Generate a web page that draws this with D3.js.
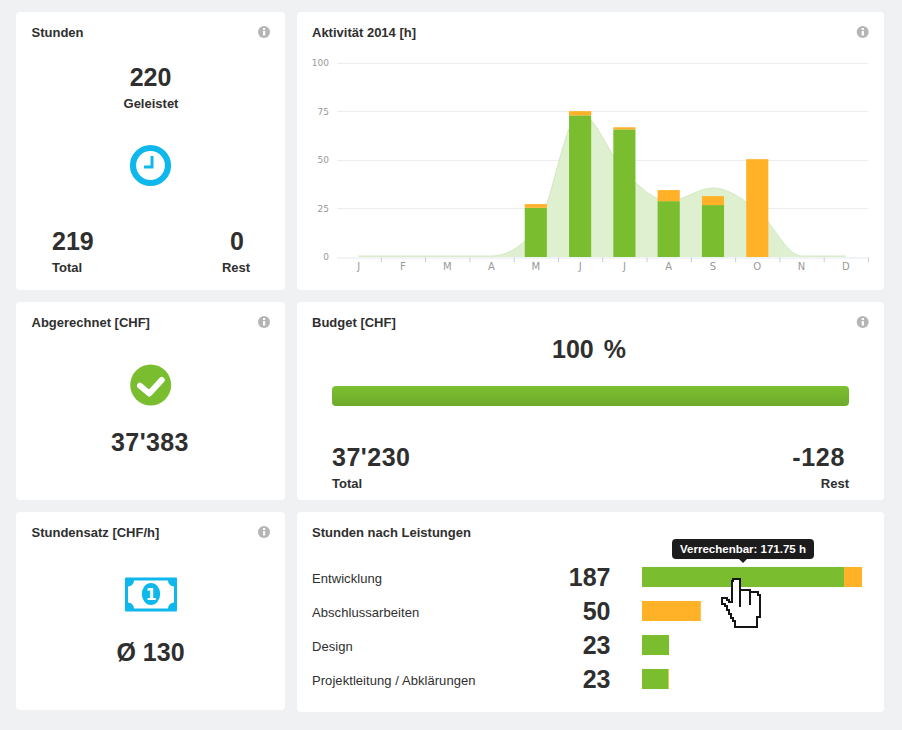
<!DOCTYPE html>
<html>
<head>
<meta charset="utf-8">
<title>Dashboard</title>
<script src="https://cdn.jsdelivr.net/npm/d3@7"></script>
<style>
html, body { margin: 0; padding: 0; background: #f0f1f3; }
svg { display: block; }
text { font-family: "Liberation Sans", Arial, sans-serif; fill: #2f2f2f; }
.title { font-size: 13px; font-weight: bold; }
.big { font-size: 25px; font-weight: bold; }
.label { font-size: 13px; font-weight: bold; }
.row { font-size: 13px; font-weight: normal; letter-spacing: 0.06px; }
.axis text { font-family: "DejaVu Sans", sans-serif; font-size: 9px; fill: #999; }
</style>
</head>
<body>
<div id="chart"></div>
<script>
// Aktivitaet 2014
var months = ["J", "F", "M", "A", "M", "J", "J", "A", "S", "O", "N", "D"];
var billable = [0, 0, 0, 0, 25.3, 72.8, 65.6, 28.7, 26.7, 0, 0, 0];
var nonBillable = [0, 0, 0, 0, 1.9, 2.2, 1.1, 5.7, 4.6, 50.3, 0, 0];
var trend = [0.5, 0.5, 0.5, 0.5, 14, 74, 44, 28.7, 35.5, 24, 0.5, 0.5];
var yTicks = [0, 25, 50, 75, 100];

// Stunden nach Leistungen
var services = ["Entwicklung", "Abschlussarbeiten", "Design", "Projektleitung / Abklärungen"];
var serviceTotals = ["187", "50", "23", "23"];
var serviceBillable = [171.75, 0, 23, 22.5];
var serviceOther = [15.25, 50, 0, 0.5];

// Budget
var budgetPercent = 100;

var GREEN = "#7abd2f", ORANGE = "#ffb128", BLUE = "#0eb7ec";

var svg = d3.select("#chart").append("svg")
    .attr("width", 902)
    .attr("height", 730);

var defs = svg.append("defs");
var grad = defs.append("linearGradient")
    .attr("id", "budget-grad")
    .attr("x1", 0).attr("x2", 0).attr("y1", 0).attr("y2", 1);
grad.append("stop").attr("offset", "0%").attr("stop-color", "#7dbf31");
grad.append("stop").attr("offset", "100%").attr("stop-color", "#6eaa2b");

// -----------------------------------------------
// cards
// -----------------------------------------------
function card(x, y, w, h, title){
    svg.append("rect")
	.attr("x", x).attr("y", y)
	.attr("width", w).attr("height", h)
	.attr("rx", 4)
	.attr("fill", "#fff");
    svg.append("text")
	.attr("class", "title")
	.attr("x", x + (x < 100 ? 15.5 : 15)).attr("y", y + 24.5)
	.text(title);
}

function info(x, y){
    svg.append("circle")
	.attr("cx", x).attr("cy", y).attr("r", 6)
	.attr("fill", "#b5b5b5");
    svg.append("rect")
	.attr("x", x - 1).attr("y", y - 1)
	.attr("width", 2.2).attr("height", 4.5)
	.attr("fill", "#fff");
    svg.append("rect")
	.attr("x", x - 1).attr("y", y - 4)
	.attr("width", 2.2).attr("height", 2)
	.attr("fill", "#fff");
}

function big(x, y, str, anchor){
    return svg.append("text")
	.attr("class", "big")
	.attr("x", x).attr("y", y)
	.attr("text-anchor", anchor || "middle")
	.text(str);
}

function label(x, y, str, anchor){
    return svg.append("text")
	.attr("class", "label")
	.attr("x", x).attr("y", y)
	.attr("text-anchor", anchor || "middle")
	.text(str);
}

card(16, 12, 269, 278, "Stunden");
card(297, 12, 587, 278, "Aktivität 2014 [h]");
card(16, 302, 269, 198, "Abgerechnet [CHF]");
card(297, 302, 587, 198, "Budget [CHF]");
card(16, 512, 269, 198, "Stundensatz [CHF/h]");
card(297, 512, 587, 200, "Stunden nach Leistungen");

info(264, 32);
info(862.7, 32);
info(264, 322);
info(862.7, 322);
info(264, 532);

// -----------------------------------------------
// Stunden
// -----------------------------------------------
big(150.5, 86, "220");
label(151, 108, "Geleistet");
big(52, 250, "219", "start");
label(52, 272, "Total", "start");
big(237, 250, "0");
label(236, 272, "Rest");

svg.append("circle")
    .attr("cx", 150.5).attr("cy", 165.5).attr("r", 17.5)
    .attr("fill", "none")
    .attr("stroke", BLUE)
    .attr("stroke-width", 6.2);
svg.append("path")
    .attr("d", "M152,156V167H144")
    .attr("fill", "none")
    .attr("stroke", BLUE)
    .attr("stroke-width", 3);

// -----------------------------------------------
// Abgerechnet
// -----------------------------------------------
svg.append("circle")
    .attr("cx", 150.7).attr("cy", 385).attr("r", 20.5)
    .attr("fill", GREEN);
svg.append("path")
    .attr("d", "M140,385.7L149.3,393.5L161.7,380")
    .attr("fill", "none")
    .attr("stroke", "#fff")
    .attr("stroke-width", 6)
    .attr("stroke-linecap", "round")
    .attr("stroke-linejoin", "round");
big(150, 451, "37'383").style("letter-spacing", "0.4px");

// -----------------------------------------------
// Stundensatz
// -----------------------------------------------
svg.append("rect")
    .attr("x", 125).attr("y", 577.5)
    .attr("width", 52).attr("height", 34)
    .attr("rx", 1)
    .attr("fill", BLUE);
svg.append("path")
    .attr("d", "M134,580.5H168A6,6 0 0 0 174,586.5V602.5A6,6 0 0 0 168,608.5H134A6,6 0 0 0 128,602.5V586.5A6,6 0 0 0 134,580.5Z")
    .attr("fill", "#fff");
svg.append("ellipse")
    .attr("cx", 151).attr("cy", 594).attr("rx", 9.2).attr("ry", 11)
    .attr("fill", BLUE);
svg.append("text")
    .attr("x", 151).attr("y", 600)
    .attr("text-anchor", "middle")
    .style("font-family", "'DejaVu Sans', sans-serif")
    .style("font-size", "16px")
    .style("font-weight", "bold")
    .style("fill", "#fff")
    .text("1");
big(150.5, 661, "Ø 130");

// -----------------------------------------------
// Aktivitaet chart
// -----------------------------------------------
var x = d3.scaleBand()
    .domain(d3.range(months.length))
    .range([336.5, 868])
    .paddingInner(0.5)
    .paddingOuter(0.25);
var xOuter = d3.scaleBand()
    .domain(d3.range(months.length))
    .range([336.5, 868]);
var y = d3.scaleLinear()
    .domain([0, 100])
    .range([257, 62.5]);

svg.append("g")
    .selectAll("line")
    .data(yTicks.slice(1))
    .enter()
    .append("line")
    .attr("x1", 337).attr("x2", 868)
    .attr("y1", function(d){ return Math.round(y(d)) + 0.5; })
    .attr("y2", function(d){ return Math.round(y(d)) + 0.5; })
    .attr("stroke", "#ececec");

var yAxis = d3.axisLeft(y)
    .tickValues(yTicks)
    .tickSize(0)
    .tickPadding(0);
svg.append("g")
    .attr("class", "axis")
    .attr("transform", "translate(329,0)")
    .call(yAxis)
    .call(function(g){ g.select(".domain").remove(); });

var area = d3.area()
    .x(function(d, i){ return xOuter(i) + xOuter.bandwidth() / 2; })
    .y0(y(0))
    .y1(function(d){ return y(d); })
    .curve(d3.curveMonotoneX);
var line = d3.line()
    .x(function(d, i){ return xOuter(i) + xOuter.bandwidth() / 2; })
    .y(function(d){ return y(d); })
    .curve(d3.curveMonotoneX);

svg.append("path")
    .datum(trend)
    .attr("d", area)
    .attr("fill", "#dff0d0");
svg.append("path")
    .datum(trend)
    .attr("d", line)
    .attr("fill", "none")
    .attr("stroke", "#d2e8c0")
    .attr("stroke-width", 1);

var xTickScale = d3.scaleLinear()
    .domain([0, months.length])
    .range([336.5, 868]);
var xAxis = d3.axisBottom(xTickScale)
    .tickValues(d3.range(1, months.length + 1))
    .tickFormat("")
    .tickSize(5)
    .tickSizeOuter(0);
svg.append("g")
    .attr("transform", "translate(0,257.5)")
    .call(xAxis)
    .call(function(g){
	g.select(".domain").attr("stroke", "#e3e8ed");
	g.selectAll("line").attr("stroke", "#c5d0da");
    });

var labelAxis = d3.axisBottom(xOuter)
    .tickFormat(function(i){ return months[i]; })
    .tickSize(0)
    .tickPadding(5);
svg.append("g")
    .attr("class", "axis")
    .attr("transform", "translate(0,258)")
    .call(labelAxis)
    .call(function(g){
	g.select(".domain").remove();
	g.selectAll("text").style("font-size", "10px");
    });

var bars = svg.append("g").selectAll("g")
    .data(months)
    .enter()
    .append("g");
bars.append("rect")
    .attr("x", function(d, i){ return x(i); })
    .attr("width", x.bandwidth())
    .attr("y", function(d, i){ return y(billable[i]); })
    .attr("height", function(d, i){ return y(0) - y(billable[i]); })
    .attr("fill", GREEN);
bars.append("rect")
    .attr("x", function(d, i){ return x(i); })
    .attr("width", x.bandwidth())
    .attr("y", function(d, i){ return y(billable[i] + nonBillable[i]); })
    .attr("height", function(d, i){ return y(0) - y(nonBillable[i]); })
    .attr("fill", ORANGE);

// -----------------------------------------------
// Budget
// -----------------------------------------------
var budgetX = d3.scaleLinear()
    .domain([0, 100])
    .range([332, 849]);
svg.append("text")
    .attr("class", "big")
    .attr("x", 589).attr("y", 358)
    .attr("text-anchor", "middle")
    .style("word-spacing", "3px")
    .text(budgetPercent + " %");
svg.append("rect")
    .attr("x", budgetX(0)).attr("y", 386)
    .attr("width", budgetX(budgetPercent) - budgetX(0))
    .attr("height", 20)
    .attr("rx", 4)
    .attr("fill", "url(#budget-grad)");
big(332, 466, "37'230", "start").style("letter-spacing", "0.5px");
label(332, 488, "Total", "start");
big(845, 466, "-128", "end").style("letter-spacing", "0.7px");
label(849, 488, "Rest", "end");

// -----------------------------------------------
// Stunden nach Leistungen
// -----------------------------------------------
var hours = d3.scaleLinear()
    .domain([0, 187])
    .range([642, 862]);
var rowY = d3.scaleBand()
    .domain(d3.range(services.length))
    .range([560, 696])
    .paddingInner(0.41)
    .paddingOuter(0.205);

var rows = svg.append("g").selectAll("g")
    .data(services)
    .enter()
    .append("g");
rows.append("text")
    .attr("class", "row")
    .attr("x", 312)
    .attr("y", function(d, i){ return rowY(i) + 16; })
    .text(function(d){ return d; });
rows.append("text")
    .attr("class", "big")
    .attr("x", 610.5)
    .attr("y", function(d, i){ return rowY(i) + 19.5; })
    .attr("text-anchor", "end")
    .text(function(d, i){ return serviceTotals[i]; });
rows.append("rect")
    .attr("x", hours(0))
    .attr("y", function(d, i){ return rowY(i); })
    .attr("width", function(d, i){ return hours(serviceBillable[i]) - hours(0); })
    .attr("height", rowY.bandwidth())
    .attr("fill", GREEN);
rows.append("rect")
    .attr("x", function(d, i){ return hours(serviceBillable[i]); })
    .attr("y", function(d, i){ return rowY(i); })
    .attr("width", function(d, i){ return hours(serviceOther[i]) - hours(0); })
    .attr("height", rowY.bandwidth())
    .attr("fill", ORANGE);

// tooltip
svg.append("path")
    .attr("d", "M676,539H810A4,4 0 0 1 814,543V555A4,4 0 0 1 810,559H747L743,563L739,559H676A4,4 0 0 1 672,555V543A4,4 0 0 1 676,539Z")
    .attr("fill", "#1c1c1c");
svg.append("text")
    .attr("x", 743).attr("y", 553)
    .attr("text-anchor", "middle")
    .style("font-size", "11.5px")
    .style("font-weight", "bold")
    .style("fill", "#fff")
    .text("Verrechenbar: " + serviceBillable[0] + " h");

// hand cursor
svg.append("path")
    .attr("d", "M733,579H740V590H750V592H758V595H760V617H757V627H735V621H733V618H731V614H729V610H727V606H725V604H722V598H727V600H729V602H732V581H733Z")
    .attr("fill", "#fff")
    .attr("stroke", "#151515")
    .attr("stroke-width", 1.5)
    .attr("shape-rendering", "crispEdges");
svg.append("path")
    .attr("d", "M740,590V607M750,592V605")
    .attr("fill", "none")
    .attr("stroke", "#151515")
    .attr("stroke-width", 1.5)
    .attr("shape-rendering", "crispEdges");
</script>
</body>
</html>
